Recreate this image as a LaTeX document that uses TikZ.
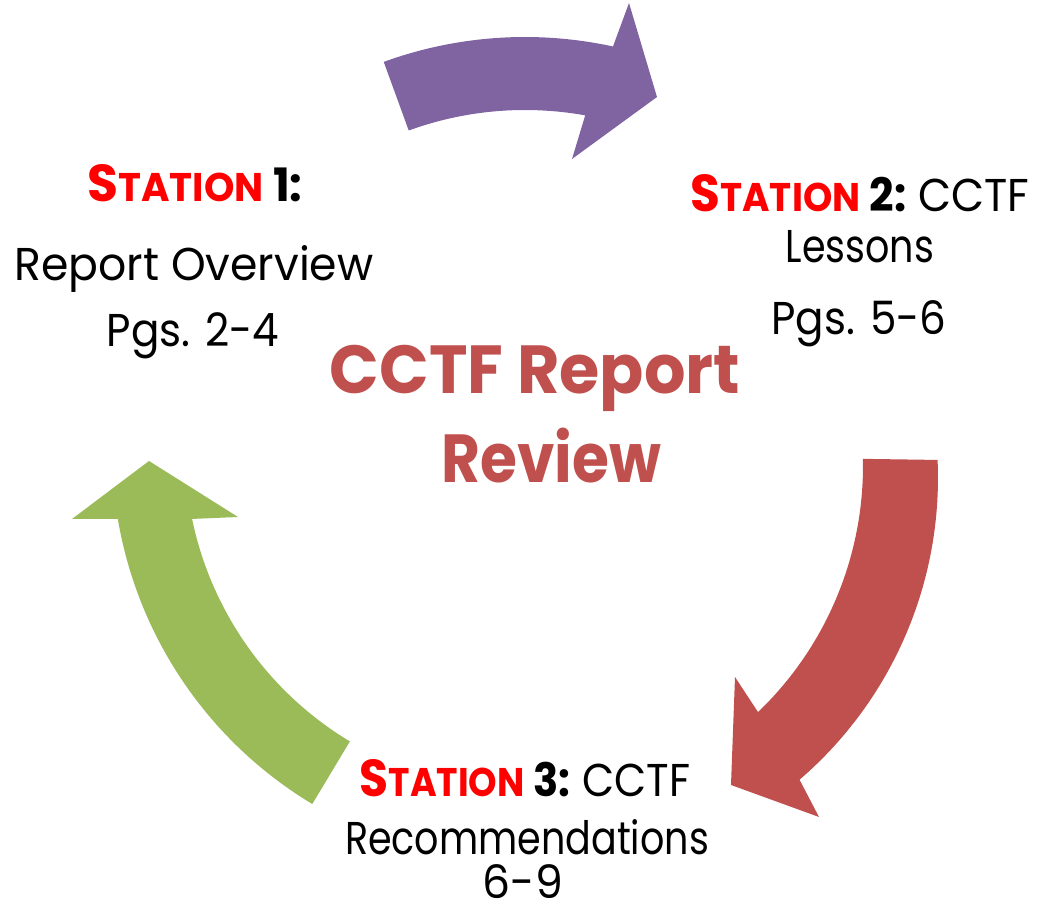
\documentclass[tikz,border=0pt]{standalone}
\usepackage{fontspec}
\setmainfont{Poppins}
\newfontfamily\txtfont[FakeStretch=0.88]{Poppins}
\usetikzlibrary{calc}
\definecolor{arPurple}{HTML}{8064A2}
\definecolor{arRed}{HTML}{C0504D}
\definecolor{arGreen}{HTML}{9BBB59}
\definecolor{stRed}{HTML}{FF0000}
\newcommand{\stationword}{{\color{stRed}\fontsize{52}{52}\selectfont S\fontsize{40}{40}\selectfont TATION}}
\newcommand{\hs}[2]{\scalebox{#1}[1]{#2}}
\begin{document}
\begin{tikzpicture}[x=1pt,y=1pt,
  lbl/.style={anchor=base,inner sep=0pt,font=\txtfont\fontsize{46}{50}\selectfont},
  stlbl/.style={anchor=base,inner sep=0pt,font=\txtfont\bfseries\fontsize{46}{50}\selectfont},
  ttl/.style={anchor=base,inner sep=0pt,text=arRed,font=\txtfont\bfseries\fontsize{68}{70}\selectfont}]
\useasboundingbox (0,0) rectangle (1037,907);
\coordinate (C) at (525,457);
\coordinate (Ci) at (522,441);
\coordinate (Co) at (540,429);
% purple arrow
\fill[arPurple] ($(C)+(110:413)$) arc[start angle=110,end angle=77.7,radius=413]
  -- (629,904) -- (657,810) -- (572,748) -- ($(C)+(79.8:340)$)
  arc[start angle=79.8,end angle=110,radius=340] -- cycle;
% red arrow
\fill[arRed] ($(Co)+(2.6:398)$) arc[start angle=2.6,end angle=-49.3,radius=398]
  -- (819,90) -- (731,122) -- (735,230) -- ($(Ci)+(-46.2:341)$)
  arc[start angle=-46.2,end angle=1.2,radius=341] -- cycle;
% green arrow
\fill[arGreen] ($(C)+(-121:413)$) arc[start angle=-121,end angle=-170.4,radius=413]
  -- (72,388) -- (149,446) -- (238,390) -- ($(C)+(-168.3:340)$)
  arc[start angle=-168.3,end angle=-121,radius=340] -- cycle;
% station 1
\node[stlbl] (s1a) at (195,705) {\hs{1.1}{\stationword{} 1:}};
\node[lbl] (s1b) at (194,626) {\hs{1.09}{Report Overview}};
\node[lbl] (s1c) at (193,560) {\hs{1.04}{Pgs. 2-4}};
% station 2
\node[stlbl] (s2a) at (860,695) {\hs{1.06}{\stationword{} 2: {\mdseries CCTF}}};
\node[lbl] (s2b) at (860,644) {\hs{0.94}{Lessons}};
\node[lbl] (s2c) at (859,572) {\hs{1.04}{Pgs. 5-6}};
% station 3
\node[stlbl] (s3a) at (525,110) {\hs{1.03}{\stationword{} 3: {\mdseries CCTF}}};
\node[lbl] (s3b) at (527,52) {\hs{0.94}{Recommendations}};
\node[lbl] (s3c) at (523,8) {\hs{1.09}{6-9}};
% title
\node[ttl] (t1) at (535,513) {\hs{1.09}{CCTF Report}};
\node[ttl] (t2) at (551,424) {Review};
\end{tikzpicture}
\end{document}
